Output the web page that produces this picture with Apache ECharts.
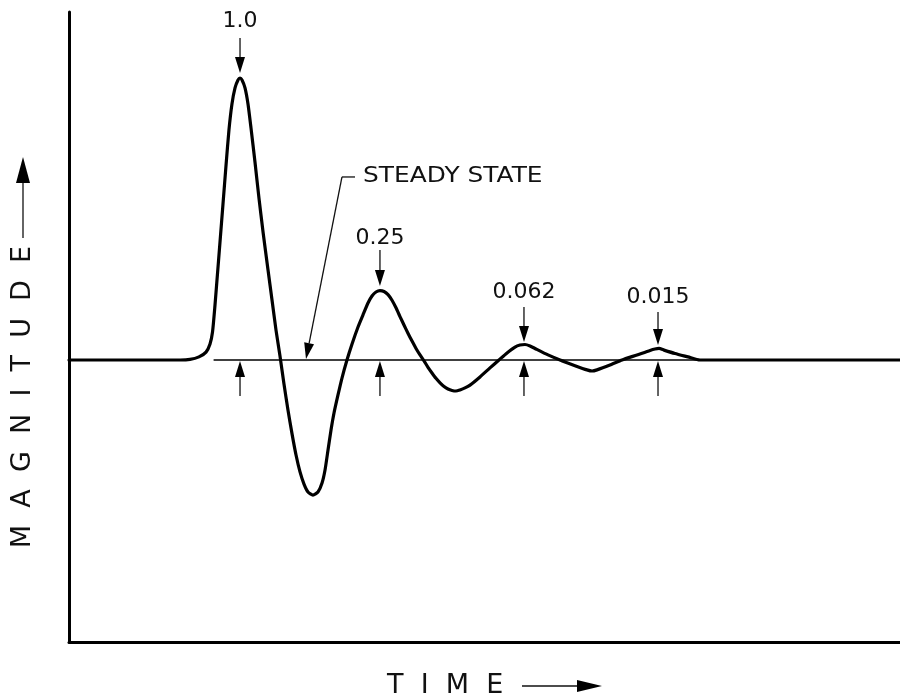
<!DOCTYPE html>
<html>
<head>
<meta charset="utf-8">
<script src="https://cdn.jsdelivr.net/npm/echarts@6/dist/echarts.min.js"></script>
<style>
html,body{margin:0;padding:0;background:#fff;}
#chart{width:900px;height:698px;}
</style>
</head>
<body>
<div id="chart"></div>
<script>
// ---- data (time in arbitrary units 0..100, magnitude relative to first peak = 1.0) ----
const curveTime = [0, 13.36, 14.56, 15.64, 16.49, 16.97, 17.27, 17.57, 17.81, 18.17, 18.53, 18.89, 19.25, 19.61, 19.98, 20.34, 20.58, 20.82, 21.18, 21.54, 21.90, 22.38, 22.86, 23.35, 23.95, 24.43, 24.91, 25.39, 25.87, 26.35, 26.84, 27.32, 27.80, 28.28, 28.76, 29.36, 29.96, 30.45, 30.81, 31.17, 31.53, 31.89, 32.37, 32.85, 33.45, 34.06, 34.78, 35.38, 35.98, 36.46, 36.94, 37.42, 37.91, 38.39, 38.87, 39.35, 39.83, 40.31, 40.79, 41.28, 41.76, 42.24, 42.72, 43.20, 43.68, 44.16, 44.65, 45.13, 45.61, 46.09, 46.57, 47.05, 47.65, 48.26, 49.46, 50.66, 51.74, 52.71, 53.67, 54.27, 54.87, 55.48, 56.20, 57.64, 59.09, 60.89, 62.33, 62.94, 63.54, 65.10, 66.55, 68.35, 69.92, 70.52, 71.00, 71.60, 72.92, 74.49, 75.93, 100];
const curveMagnitude = [0, 0, 0.002, 0.011, 0.028, 0.057, 0.099, 0.195, 0.284, 0.418, 0.553, 0.688, 0.816, 0.908, 0.965, 0.993, 1.0, 0.993, 0.965, 0.908, 0.823, 0.702, 0.574, 0.454, 0.319, 0.213, 0.106, 0.014, -0.085, -0.177, -0.262, -0.337, -0.397, -0.440, -0.468, -0.479, -0.468, -0.436, -0.390, -0.319, -0.248, -0.188, -0.124, -0.064, 0, 0.057, 0.117, 0.160, 0.202, 0.227, 0.241, 0.246, 0.243, 0.232, 0.212, 0.185, 0.154, 0.124, 0.095, 0.067, 0.041, 0.018, -0.003, -0.026, -0.046, -0.065, -0.081, -0.094, -0.103, -0.108, -0.110, -0.106, -0.099, -0.089, -0.060, -0.028, 0, 0.025, 0.046, 0.053, 0.055, 0.050, 0.039, 0.018, 0, -0.020, -0.035, -0.039, -0.035, -0.018, 0, 0.018, 0.034, 0.039, 0.041, 0.035, 0.023, 0.011, 0, 0];

const steadyTime = [17.4, 100];
const steadyValue = [0, 0];

const peakTimes = [20.58, 37.42, 54.75, 70.88];
const peakLabels = ['1.0', '0.25', '0.062', '0.015'];
const labelMagnitudes = [1.202, 0.433, 0.241, 0.223];
const downArrowStart = [1.142, 0.39, 0.188, 0.170];
const downArrowEnd = [1.018, 0.262, 0.064, 0.053];
const upArrowStart = [-0.128, -0.128, -0.128, -0.128];
const upArrowEnd = [-0.004, -0.004, -0.004, -0.004];

const steadyLabel = 'STEADY STATE';
const steadyLabelPos = [35.38, 0.652];
const leaderStart = [32.85, 0.649];
const leaderEnd = [28.52, 0.0035];
const leaderTickEnd = [34.42, 0.649];

const xAxisTitle = 'T  I  M  E';
const yAxisTitle = 'M  A  G  N  I  T  U  D  E';

// ---- build ----
const TXT = '#111';

const curveData = curveTime.map((t, i) => [t, curveMagnitude[i]]);
const steadyData = steadyTime.map((t, i) => [t, steadyValue[i]]);

// arrows: [t1, m1, t2, m2, withHead]
const arrowData = [];
peakTimes.forEach((t, i) => {
  arrowData.push([t, downArrowStart[i], t, downArrowEnd[i], 1]);
  arrowData.push([t, upArrowStart[i], t, upArrowEnd[i], 1]);
});
arrowData.push([leaderStart[0], leaderStart[1], leaderEnd[0], leaderEnd[1], 1]);
arrowData.push([leaderStart[0], leaderStart[1], leaderTickEnd[0], leaderTickEnd[1], 0]);

// text labels: [t, m, alignCode(0 center,1 left), widthScale]
const labelTexts = peakLabels.concat([steadyLabel]);
const labelData = peakTimes.map((t, i) => [t, labelMagnitudes[i], 0, 1.0]);
labelData.push([steadyLabelPos[0], steadyLabelPos[1], 1, 1.13]);

const chart = echarts.init(document.getElementById('chart'), null, { renderer: 'canvas' });

const option = {
  animation: false,
  backgroundColor: '#fff',
  grid: { left: 69, right: 0, top: 12, bottom: 56 },
  xAxis: {
    type: 'value', min: 0, max: 100,
    axisLine: { show: true, onZero: false, lineStyle: { color: '#000', width: 3 } },
    axisTick: { show: false }, axisLabel: { show: false }, splitLine: { show: false }
  },
  yAxis: {
    type: 'value', min: -1, max: 1.234,
    axisLine: { show: true, onZero: false, lineStyle: { color: '#000', width: 3 } },
    axisTick: { show: false }, axisLabel: { show: false }, splitLine: { show: false }
  },
  series: [
    {
      name: 'steady', type: 'line', data: steadyData, symbol: 'none', silent: true,
      lineStyle: { color: '#000', width: 1.3 }, z: 2
    },
    {
      name: 'response', type: 'line', data: curveData, symbol: 'none', smooth: 0.2,
      lineStyle: { color: '#000', width: 3.2, join: 'round', cap: 'round' }, z: 3
    },
    {
      name: 'arrows', type: 'custom', data: arrowData, z: 4, silent: true,
      renderItem: function (params, api) {
        const p1 = api.coord([api.value(0), api.value(1)]);
        const p2 = api.coord([api.value(2), api.value(3)]);
        const head = api.value(4);
        const dx = p2[0] - p1[0], dy = p2[1] - p1[1];
        const len = Math.hypot(dx, dy) || 1;
        const ux = dx / len, uy = dy / len;
        const hl = 16, hw = 5;
        const base = [p2[0] - ux * hl, p2[1] - uy * hl];
        const children = [{
          type: 'line',
          shape: { x1: p1[0], y1: p1[1], x2: head ? base[0] : p2[0], y2: head ? base[1] : p2[1] },
          style: { stroke: '#111', lineWidth: 1.3 }
        }];
        if (head) {
          children.push({
            type: 'polygon',
            shape: { points: [p2, [base[0] - uy * hw, base[1] + ux * hw], [base[0] + uy * hw, base[1] - ux * hw]] },
            style: { fill: '#000' }
          });
        }
        return { type: 'group', children: children };
      }
    },
    {
      name: 'labels', type: 'custom', data: labelData, z: 5, silent: true,
      renderItem: function (params, api) {
        const p = api.coord([api.value(0), api.value(1)]);
        const left = api.value(2) === 1;
        return {
          type: 'text', x: p[0], y: p[1], scaleX: api.value(3), originX: 0, originY: 0,
          style: {
            text: labelTexts[params.dataIndex], font: "22px 'DejaVu Sans', sans-serif", fill: TXT,
            textAlign: left ? 'left' : 'center', textVerticalAlign: 'middle'
          }
        };
      }
    }
  ],
  graphic: [
    {
      type: 'text', x: 387, y: 686,
      style: { text: xAxisTitle, font: "27px 'DejaVu Sans', sans-serif", fill: TXT, textAlign: 'left', textVerticalAlign: 'middle' }
    },
    { type: 'line', shape: { x1: 522, y1: 686, x2: 580, y2: 686 }, style: { stroke: '#111', lineWidth: 1.3 } },
    { type: 'polygon', shape: { points: [[577, 680], [602, 686], [577, 692]] }, style: { fill: '#000' } },
    {
      type: 'text', x: 23, y: 397, rotation: Math.PI / 2,
      style: { text: yAxisTitle, font: "27px 'DejaVu Sans', sans-serif", fill: TXT, textAlign: 'center', textVerticalAlign: 'middle' }
    },
    { type: 'line', shape: { x1: 23, y1: 238, x2: 23, y2: 180 }, style: { stroke: '#111', lineWidth: 1.3 } },
    { type: 'polygon', shape: { points: [[16, 183], [23, 157], [30, 183]] }, style: { fill: '#000' } }
  ]
};
chart.setOption(option);
</script>
</body>
</html>
